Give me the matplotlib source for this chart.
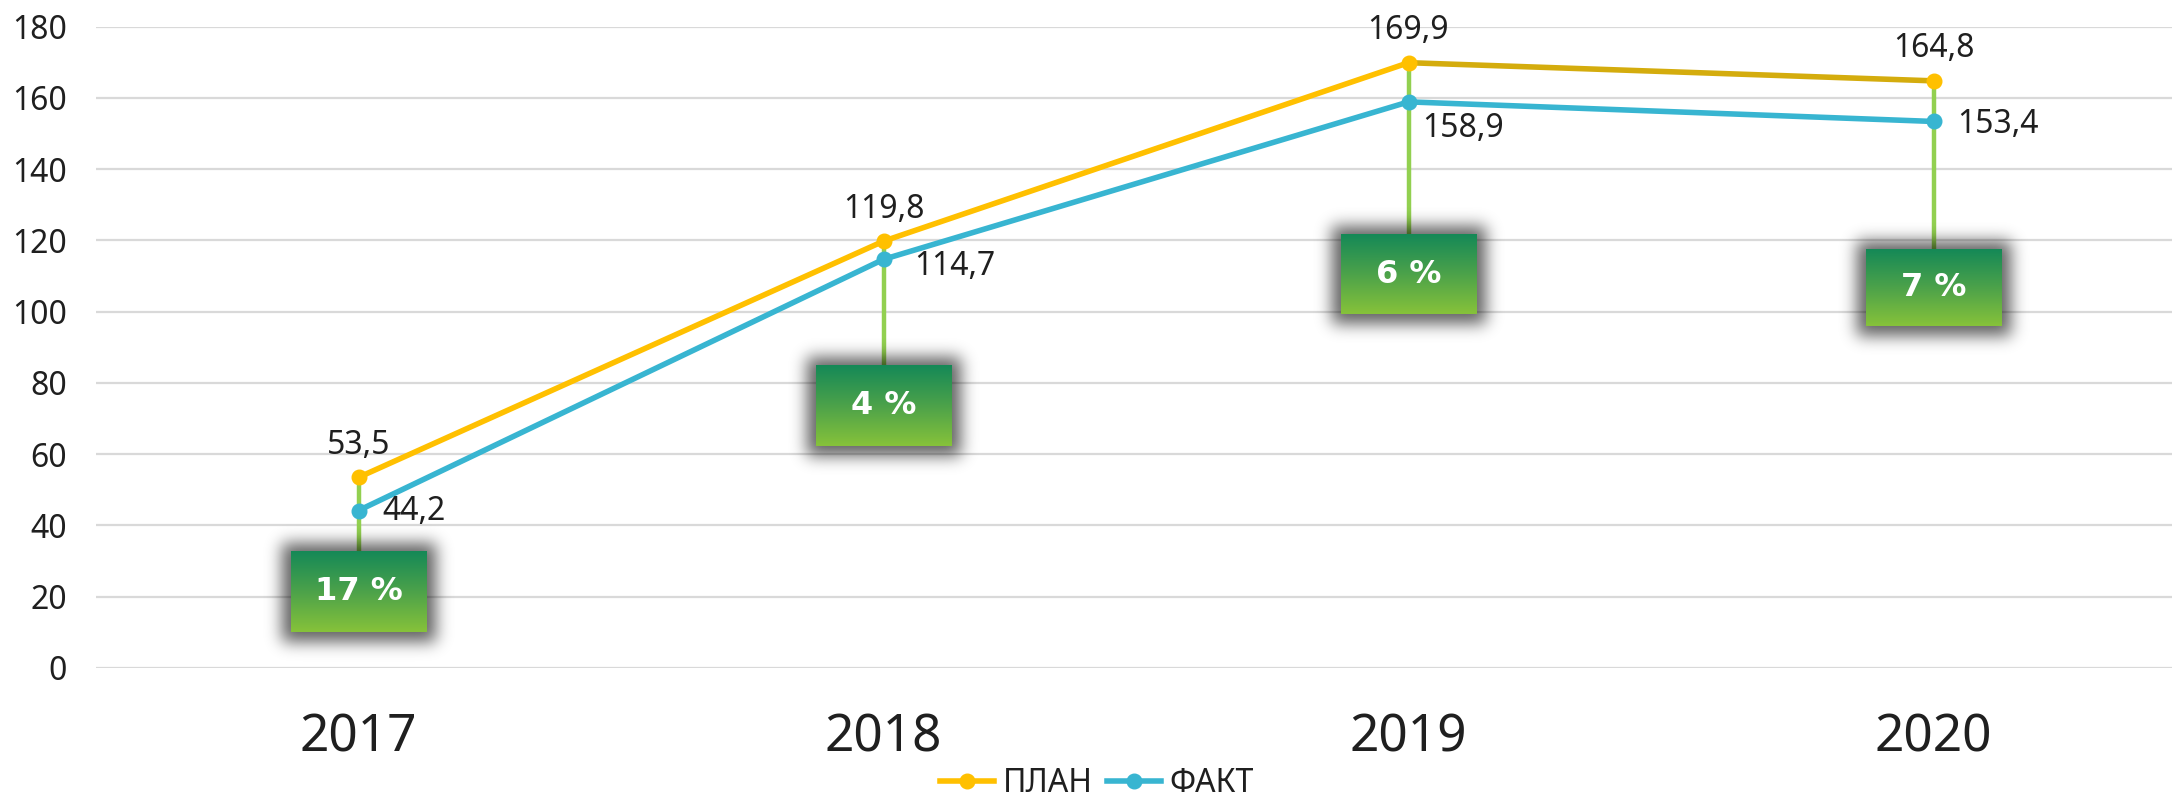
import numpy as np
import matplotlib
matplotlib.use("Agg")
import matplotlib.pyplot as plt
from matplotlib.colors import LinearSegmentedColormap
from matplotlib.lines import Line2D

plt.rcParams['font.family'] = ['Noto Sans', 'DejaVu Sans']

# data
years = ['2017', '2018', '2019', '2020']
plan = [53.5, 119.8, 169.9, 164.8]
fact = [44.2, 114.7, 158.9, 153.4]
pct_labels = ['17 %', '4 %', '6 %', '7 %']
box_low = [10.1, 62.3, 99.3, 95.9]
box_high = [32.8, 85.0, 121.7, 117.5]

# label offsets for the fact values (points)
fact_offsets = [(17, -1), (22, -5), (10, -19), (17, -2)]

c_plan = '#FFC000'
c_plan_dark = '#D4AC0D'
c_fact = '#38B5D1'
c_stem = '#92D050'

W, H = 2172, 801
fig = plt.figure(figsize=(W / 100, H / 100), dpi=100)
ax = fig.add_axes([96 / W, 133 / H, 2100 / W, 641.3 / H])

x = np.arange(len(years))
ax.set_yticks(range(0, 181, 20))
ax.grid(axis='y', color='#D9D9D9', lw=1.6, zorder=0)
ax.set_axisbelow(True)
for s in ax.spines.values():
    s.set_visible(False)
ax.tick_params(axis='y', length=0, pad=21, labelsize=23, labelcolor='#1f1f1f')
ax.tick_params(axis='x', length=0, pad=32, labelsize=37, labelcolor='#1f1f1f')
ax.set_xticks(x)
ax.set_xticklabels(years)

# pixel sizes in data units
px_x = 1 / 525
px_y = 180 / 641.3


def blur(a, sigma):
    r = int(3 * sigma)
    k = np.exp(-0.5 * (np.arange(-r, r + 1) / sigma) ** 2)
    k /= k.sum()
    a = np.apply_along_axis(lambda v: np.convolve(v, k, mode='same'), 0, a)
    a = np.apply_along_axis(lambda v: np.convolve(v, k, mode='same'), 1, a)
    return a


# green boxes with soft shadow
cmap = LinearSegmentedColormap.from_list('g', ['#158957', '#4CA24A', '#86C23A'])
grad = np.linspace(0, 1, 100).reshape(-1, 1)
half_w = 68 * px_x
pad = 45
for i in range(len(years)):
    ax.plot([x[i], x[i]], [plan[i], box_high[i]], color=c_stem, lw=3.2, zorder=2,
            solid_capstyle='butt')
    bh = int(round((box_high[i] - box_low[i]) / px_y))
    bw = 136
    mask = np.zeros((bh + 2 * pad, bw + 2 * pad))
    mask[pad - 8:pad + bh + 10, pad - 9:pad + bw + 9] = 1
    sh = blur(mask, 8.0)
    rgba = np.zeros(sh.shape + (4,))
    rgba[..., 3] = 0.62 * sh
    ax.imshow(rgba, aspect='auto', zorder=3, interpolation='bilinear',
              extent=(x[i] - half_w - pad * px_x, x[i] + half_w + pad * px_x,
                      box_low[i] - pad * px_y, box_high[i] + pad * px_y))
    ax.imshow(grad, cmap=cmap, aspect='auto', zorder=4, interpolation='bilinear',
              extent=(x[i] - half_w, x[i] + half_w, box_low[i], box_high[i]))
    ax.text(x[i], (box_low[i] + box_high[i]) / 2, pct_labels[i], color='white',
            fontsize=23, fontweight='bold', family='DejaVu Sans',
            ha='center', va='center', zorder=5)

ax.set_xlim(-0.5, 3.5)
ax.set_ylim(0, 180)

# lines
ax.plot(x[:3], plan[:3], color=c_plan, lw=4, zorder=6, solid_capstyle='round')
ax.plot(x[2:], plan[2:], color=c_plan_dark, lw=4, zorder=6, solid_capstyle='round')
ax.plot(x, fact, color=c_fact, lw=4, zorder=6)
ax.plot(x, plan, 'o', color=c_plan, ms=10.5, zorder=7)
ax.plot(x, fact, 'o', color=c_fact, ms=10.5, zorder=7)

for i in range(len(years)):
    ax.annotate(f'{plan[i]:.1f}'.replace('.', ','), (x[i], plan[i]), xytext=(0, 17),
                textcoords='offset points', ha='center', va='baseline',
                fontsize=23, color='#1f1f1f', zorder=8)
    ax.annotate(f'{fact[i]:.1f}'.replace('.', ','), (x[i], fact[i]), xytext=fact_offsets[i],
                textcoords='offset points', ha='left', va='center',
                fontsize=23, color='#1f1f1f', zorder=8)

# legend
handles = [Line2D([], [], color=c_plan, lw=4, marker='o', ms=10.5),
           Line2D([], [], color=c_fact, lw=4, marker='o', ms=10.5)]
fig.legend(handles, ['ПЛАН', 'ФАКТ'], loc='center', bbox_to_anchor=(0.505, 17 / H),
           ncol=2, frameon=False, fontsize=23, handlelength=1.7, handletextpad=0.25,
           columnspacing=0.45, borderpad=0, labelcolor='#1f1f1f')

fig.savefig('out.png', dpi=100)
